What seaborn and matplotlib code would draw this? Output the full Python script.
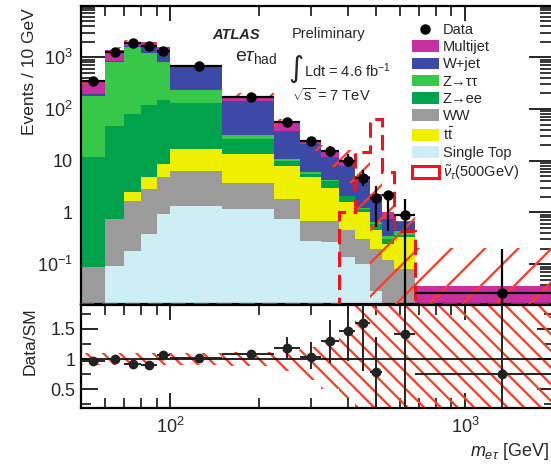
import numpy as np
import pandas as pd
import matplotlib
matplotlib.use("Agg")
import matplotlib.pyplot as plt
import seaborn as sns
from matplotlib.ticker import FixedLocator, FuncFormatter, NullFormatter, LogLocator, MultipleLocator
from matplotlib.patches import Patch
from matplotlib.lines import Line2D

# ---------------- data ----------------
edges = [50, 60, 70, 80, 90, 100, 150, 225, 275, 325, 375, 425, 475, 525, 575, 675, 2000]

multijet   = [142, 573, 324, 350, 150, 20, 36, 17, 3.0, 3.6, 2.5, 1.0, 0.4, 0.25, 0.03, 0.038]
wjet       = [14, 30, 126, 390, 600, 414, 114, 27.2, 15, 7.3, 5.9, 2.8, 1.25, 0.4, 0.22, 0]
ztautau    = [169, 752, 1470, 1090, 649, 105, 5.1, 0.8, 0.5, 0.2, 0.05, 0.05, 0.05, 0.05, 0.08, 0]
zee        = [11.7, 46.8, 77.5, 115, 142, 114, 12.8, 2.0, 0.7, 1.15, 0.45, 0.15, 0.15, 0.05, 0.03, 0]
ttbar      = [0, 0, 0.82, 1.9, 3.8, 10.4, 9.7, 6.2, 4.1, 2.26, 1.15, 0.7, 0.25, 0.13, 0.25, 0]
ww         = [0.088, 0.65, 1.5, 2.5, 3.9, 5.1, 2.6, 1.08, 0.41, 0.42, 0.31, 0.2, 0.17, 0.12, 0.08, 0]
singletop  = [0, 0.093, 0.18, 0.38, 0.93, 1.31, 1.16, 0.745, 0.28, 0.27, 0.14, 0.1, 0.03, 0, 0, 0]

signal     = [0, 0, 0, 0, 0, 0, 0, 0, 0, 0, 1.0, 14.5, 64, 6.0, 0.44, 0]

data       = [352, 1283, 1866, 1676, 1343, 689, 173, 55.3, 24.4, 15.2, 10.0, 4.57, 1.92, 2.17, 0.9, 0.028]
data_hi    = [380, 1330, 1930, 1740, 1400, 710, 180, 59, 27, 19.5, 13.5, 6.7, 3.28, 2.63, 1.82, 0.196]
data_lo    = [325, 1240, 1800, 1610, 1290, 670, 166, 52, 22, 11.6, 7.4, 3.2, 0.52, 0.44, 1e-4, 1e-4]

ratio      = [0.97, 1.0, 0.92, 0.9, 1.07, 1.02, 1.08, 1.19, 1.04, 1.29, 1.47, 1.6, 0.79, np.nan, 1.42, 0.75]
ratio_hi   = [1.0, 1.02, 0.94, 0.92, 1.09, 1.04, 1.11, 1.36, 1.28, 1.64, 2.2, 2.5, 1.36, np.nan, 3.0, 3.0]
ratio_lo   = [0.94, 0.98, 0.90, 0.88, 1.05, 1.0, 1.05, 1.02, 0.83, 0.94, 0.97, 0.8, 0.0, np.nan, 0.0, 0.0]

band_lo    = [0.9, 0.9, 0.9, 0.9, 0.9, 0.9, 0.88, 0.8, 0.65, 0.5, 0.35, 0.2, 0, 0, 0, 0]
band_hi    = [1.1, 1.1, 1.1, 1.1, 1.1, 1.1, 1.12, 1.15, 1.2, 1.3, 1.5, 2.0, 2.0, 2.0, 2.0, 5.5]

labels = ["Multijet", "W+jet", "Z→ττ", "Z→ee", "WW", r"$\mathrm{t\bar{t}}$", "Single Top"]
colors = ["#C8309F", "#3C49A6", "#37C84A", "#00A24C", "#9B9B9B", "#EEF000", "#CDEEF4"]
series = [multijet, wjet, ztautau, zee, ww, ttbar, singletop]
# visual stacking (bottom -> top): Single Top, WW, ttbar, Z->ee, Z->tautau, W+jet, Multijet
stack_order = ["Multijet", "W+jet", "Z→ττ", "Z→ee", "ttbar", "WW", "Single Top"]
key = {"Multijet": multijet, "W+jet": wjet, "Z→ττ": ztautau, "Z→ee": zee,
       "ttbar": ttbar, "WW": ww, "Single Top": singletop}
col = {"Multijet": colors[0], "W+jet": colors[1], "Z→ττ": colors[2], "Z→ee": colors[3],
       "ttbar": colors[5], "WW": colors[4], "Single Top": colors[6]}

ymin, ymax = 0.017, 9.6e3
rmin, rmax = 0.2, 1.9
RED = "#F0141C"
HATCH = "#FF3B22"

# ---------------- style ----------------
sns.set_style("ticks")
plt.rcParams["font.family"] = ["Liberation Sans", "DejaVu Sans"]
plt.rcParams["mathtext.fontset"] = "custom"
plt.rcParams["mathtext.rm"] = "Liberation Sans"
plt.rcParams["mathtext.it"] = "Liberation Sans:italic"
plt.rcParams["mathtext.bf"] = "Liberation Sans:bold"
plt.rcParams["hatch.linewidth"] = 1.6
plt.rcParams["hatch.color"] = HATCH

W, H = 551, 466
fig = plt.figure(figsize=(W / 100, H / 100), dpi=100)

def fx(px):
    return px / W

def fy(py):
    return 1 - py / H

xl, xr = 81.2, 553.8
ax = fig.add_axes([fx(xl), fy(304), fx(xr - xl), (304 - 6.4) / H])
ax2 = fig.add_axes([fx(xl), fy(407.5), fx(xr - xl), (407.5 - 304.5) / H])

edges_a = np.asarray(edges, float)
centers = 0.5 * (edges_a[:-1] + edges_a[1:])

# ---------------- stacked backgrounds via seaborn ----------------
rows = []
for name in stack_order:
    for c, v in zip(centers, key[name]):
        rows.append({"x": c, "w": v, "process": name})
df = pd.DataFrame(rows)
sns.histplot(data=df, x="x", weights="w", hue="process", hue_order=stack_order,
             multiple="stack", bins=edges, element="step", alpha=1, linewidth=0,
             palette=col, legend=False, ax=ax)

total = np.sum([np.asarray(s, float) for s in series], axis=0)

# systematic band (top)
lo_t = total * np.asarray(band_lo)
hi_t = total * np.asarray(band_hi)
ax.fill_between(edges_a, np.append(lo_t, lo_t[-1]), np.append(hi_t, hi_t[-1]), step="post",
                facecolor="none", edgecolor=HATCH, hatch="/", linewidth=0, zorder=3)

# signal
sig = np.clip(np.asarray(signal, float), ymin, None)
ax.stairs(sig, edges_a, color=RED, linewidth=2.2, linestyle=(0, (5, 2.5)), zorder=4)

# data
d = np.asarray(data, float)
xerr = [centers - edges_a[:-1], edges_a[1:] - centers]
yerr = [d - np.asarray(data_lo), np.asarray(data_hi) - d]
ax.errorbar(centers, d, xerr=xerr, yerr=yerr, fmt="o", color="black", ms=6.5,
            elinewidth=1.6, capsize=0, zorder=6)

ax.set_xscale("log")
ax.set_yscale("log")
ax.set_xlim(edges[0], edges[-1])
ax.set_ylim(ymin, ymax)

# ---------------- ratio panel ----------------
blo = np.clip(np.asarray(band_lo), rmin, rmax)
bhi = np.clip(np.asarray(band_hi), rmin, rmax)
ax2.fill_between(edges_a, np.append(blo, blo[-1]), np.append(bhi, bhi[-1]), step="post",
                 facecolor="none", edgecolor=HATCH, hatch="\\\\", linewidth=0, zorder=2)
ax2.axhline(1.0, color="black", linewidth=1.2, zorder=3)
r = np.asarray(ratio, float)
ryerr = [r - np.asarray(ratio_lo), np.asarray(ratio_hi) - r]
ax2.errorbar(centers, r, xerr=xerr, yerr=ryerr, fmt="o", color="#222222", ms=6,
             elinewidth=1.4, capsize=0, zorder=5)
ax2.set_xscale("log")
ax2.set_xlim(edges[0], edges[-1])
ax2.set_ylim(rmin, rmax)

# ---------------- axes cosmetics ----------------
for a in (ax, ax2):
    for s in a.spines.values():
        s.set_linewidth(1.6)
        s.set_color("black")
    a.set_xlabel("")
    a.set_ylabel("")
    a.xaxis.set_major_locator(FixedLocator([100, 1000]))
    a.xaxis.set_minor_locator(LogLocator(base=10, subs=np.arange(2, 10)))
    a.xaxis.set_minor_formatter(NullFormatter())
    a.tick_params(axis="x", which="major", direction="in", length=11, width=1.4, top=True, bottom=True)
    a.tick_params(axis="x", which="minor", direction="in", length=7, width=1.3, top=True, bottom=True)

ax.yaxis.set_major_locator(FixedLocator([0.1, 1, 10, 100, 1000]))
ax.yaxis.set_minor_locator(LogLocator(base=10, subs=np.arange(2, 10)))
ax.yaxis.set_minor_formatter(NullFormatter())

def yfmt(v, pos):
    e = int(round(np.log10(v)))
    if e == 0:
        return "1"
    if e == 1:
        return "10"
    return r"$10^{%d}$" % e

ax.yaxis.set_major_formatter(FuncFormatter(yfmt))
ax.tick_params(axis="y", which="major", direction="in", length=18, width=1.4, left=True, right=True,
               labelsize=13, pad=6)
ax.tick_params(axis="y", which="minor", direction="in", length=10, width=1.3, left=True, right=True)
ax.tick_params(axis="x", labelbottom=False)

ax2.yaxis.set_major_locator(FixedLocator([0.5, 1.0, 1.5]))
ax2.yaxis.set_major_formatter(FuncFormatter(lambda v, p: "1" if v == 1 else "%g" % v))
ax2.yaxis.set_minor_locator(MultipleLocator(0.25))
ax2.tick_params(axis="y", which="major", direction="in", length=12, width=1.4, left=True, right=True,
                labelsize=13, pad=4)
ax2.tick_params(axis="y", which="minor", direction="in", length=7, width=1.3, left=True, right=True)
ax2.xaxis.set_major_formatter(FuncFormatter(lambda v, p: r"$10^{%d}$" % int(round(np.log10(v)))))
ax2.tick_params(axis="x", labelsize=13, pad=7)

# axis titles
fig.text(fx(30), fy(8), "Events / 10 GeV", rotation=90, ha="center", va="top", fontsize=12.5)
fig.text(fx(30), fy(341), "Data/SM", rotation=90, ha="center", va="center", fontsize=12.5)
fig.text(fx(549), fy(452), r"$m_{e\tau}$ [GeV]", ha="right", va="center", fontsize=13)

# annotations
fig.text(fx(236), fy(35), "ATLAS", ha="center", va="center", fontsize=10.5,
         fontweight="bold", fontstyle="italic")
fig.text(fx(329), fy(34), "Preliminary", ha="center", va="center", fontsize=10.5)
fig.text(fx(235), fy(58), r"e$\tau_{\mathrm{had}}$", ha="left", va="center", fontsize=14)
fig.text(fx(288), fy(69), "∫", ha="left", va="center", fontsize=21, family="DejaVu Sans")
fig.text(fx(304), fy(71), r"Ldt = 4.6 fb$^{\mathrm{-1}}$", ha="left", va="center", fontsize=10.5)
fig.text(fx(292), fy(95), r"$\sqrt{\mathrm{s}}$ = 7 TeV", ha="left", va="center", fontsize=10.5)

# legend
handles = [Line2D([], [], marker="o", color="black", linestyle="none", markersize=6.5)]
for c in colors:
    handles.append(Patch(facecolor=c, edgecolor="none"))
handles.append(Patch(facecolor="none", edgecolor=RED, linewidth=2.2))
leg_labels = ["Data"] + labels + [r"$\tilde{\nu}_{\tau}$(500GeV)"]
fig.legend(handles, leg_labels, loc="upper left", bbox_to_anchor=(fx(412), fy(23)),
           frameon=False, fontsize=10.5, handlelength=1.85, handleheight=0.85,
           handletextpad=0.25, labelspacing=0.22, borderpad=0, borderaxespad=0)

fig.savefig("out.png", dpi=100)
